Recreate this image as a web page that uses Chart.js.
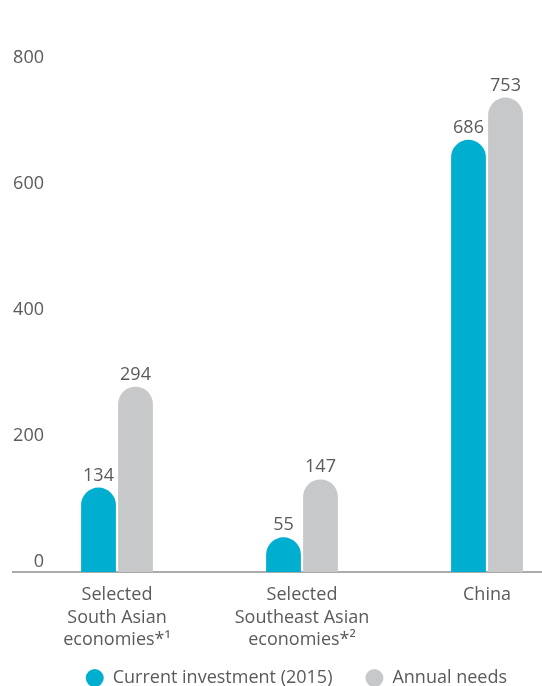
<!DOCTYPE html>
<html>
<head>
<meta charset="utf-8">
<script src="https://cdn.jsdelivr.net/npm/chart.js@4/dist/chart.umd.min.js"></script>
<style>
  html, body { margin: 0; padding: 0; background: #ffffff; }
  #wrap { width: 542px; height: 686px; position: relative; }
</style>
</head>
<body>
<div id="wrap"><canvas id="c"></canvas></div>
<script>
const categories = [
  ['Selected', 'South Asian', 'economies*\u00B9'],
  ['Selected', 'Southeast Asian', 'economies*\u00B2'],
  ['China']
];
const currentInvestment = [134, 55, 686];
const annualNeeds = [294, 147, 753];
const seriesNames = ['Current investment (2015)', 'Annual needs'];
const seriesColors = ['#00AECF', '#C7C8CA'];
const yMin = 0, yMax = 800, yStep = 200;

const FONT = "'Open Sans', 'Noto Sans', sans-serif";
const TEXT = '#5a5a5a';

const baselinePlugin = {
  id: 'baseline',
  beforeDatasetsDraw(chart) {
    const ctx = chart.ctx;
    const y = chart.scales.y.getPixelForValue(0);
    ctx.save();
    ctx.strokeStyle = '#8f8f8f';
    ctx.lineWidth = 1.5;
    ctx.beginPath();
    ctx.moveTo(12, y);
    ctx.lineTo(chart.width, y);
    ctx.stroke();
    ctx.restore();
  }
};

const valueLabelPlugin = {
  id: 'valueLabels',
  afterDatasetsDraw(chart) {
    const ctx = chart.ctx;
    ctx.save();
    ctx.font = '18px ' + FONT;
    ctx.fillStyle = TEXT;
    ctx.textAlign = 'center';
    ctx.textBaseline = 'alphabetic';
    chart.data.datasets.forEach((ds, di) => {
      const meta = chart.getDatasetMeta(di);
      meta.data.forEach((el, i) => {
        ctx.fillText(String(ds.data[i]), el.x, el.y - 7);
      });
    });
    ctx.restore();
  }
};

new Chart(document.getElementById('c'), {
  type: 'bar',
  data: {
    labels: categories,
    datasets: [
      {
        label: seriesNames[0],
        data: currentInvestment,
        backgroundColor: seriesColors[0],
        borderRadius: 100,
        borderSkipped: 'start',
        yAxisID: 'y'
      },
      {
        label: seriesNames[1],
        data: annualNeeds,
        backgroundColor: seriesColors[1],
        borderRadius: 100,
        borderSkipped: 'start',
        yAxisID: 'y'
      }
    ]
  },
  options: {
    responsive: true,
    maintainAspectRatio: false,
    animation: false,
    clip: false,
    datasets: { bar: { barPercentage: 0.94, categoryPercentage: 0.4, clip: false } },
    layout: { padding: { top: 68, right: 2, bottom: -11, left: 0 } },
    scales: {
      x: {
        type: 'category',
        offset: false,
        grid: { display: false, drawTicks: false },
        border: { display: false },
        ticks: {
          color: TEXT,
          font: { family: FONT, size: 18, lineHeight: 1.25 },
          mirror: true,
          padding: -34.25,
          maxRotation: 0,
          autoSkip: false
        },
        afterFit: (s) => { s.height = 64; }
      },
      y: {
        min: yMin,
        max: yMax,
        grid: { display: false, drawTicks: false },
        border: { display: false },
        ticks: {
          stepSize: yStep,
          color: TEXT,
          font: { family: FONT, size: 18 },
          padding: 73,
          labelOffset: -10
        },
        afterFit: (s) => { s.width = 117; s.paddingTop = 0; s.paddingBottom = 0; }
      },
      y2: {
        position: 'right',
        min: yMin,
        max: yMax,
        grid: { display: false, drawTicks: false },
        border: { display: false },
        ticks: { display: false },
        afterFit: (s) => { s.width = 53; s.paddingTop = 0; s.paddingBottom = 0; }
      }
    },
    plugins: {
      legend: {
        position: 'bottom',
        align: 'end',
        labels: {
          usePointStyle: true,
          pointStyle: 'circle',
          pointStyleWidth: 18,
          boxHeight: 12.7,
          padding: 33,
          color: TEXT,
          font: { family: FONT, size: 18 }
        }
      },
      tooltip: { enabled: false }
    }
  },
  plugins: [baselinePlugin, valueLabelPlugin]
});
</script>
</body>
</html>
